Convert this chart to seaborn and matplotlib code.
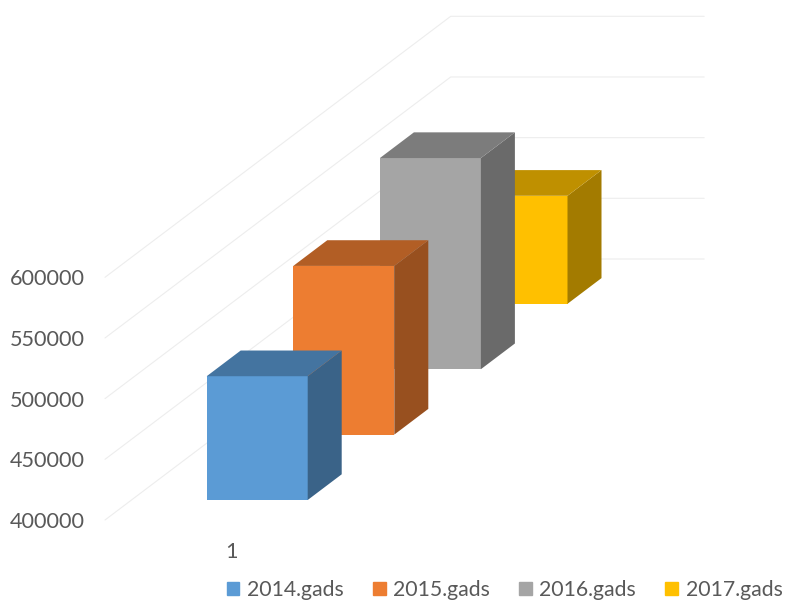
import matplotlib

matplotlib.use("Agg")
import matplotlib.pyplot as plt
import numpy as np
import seaborn as sns
from matplotlib.lines import Line2D
from matplotlib.patches import Patch, Polygon
from matplotlib.transforms import IdentityTransform

categories = ["1"]
series_names = ["2014.gads", "2015.gads", "2016.gads", "2017.gads"]
series_values = [502000, 539000, 574000, 489000]
series_colors = ["#5B9BD5", "#ED7D31", "#A5A5A5", "#FFC000"]
value_ticks = [400000, 450000, 500000, 550000, 600000]

W, H = 785, 601
TEXT = "#595959"
FONT_SIZE = 15.6


def px_rect(left, top, right, bottom):
    """Axes rectangle from image pixels (y counted from the top)."""
    return [left / W, 1 - bottom / H, (right - left) / W, (bottom - top) / H]


def shade(color, factor):
    return tuple(np.array(matplotlib.colors.to_rgb(color)) * factor)


sns.set_theme(style="white")
plt.rcParams["font.family"] = ["Lato", "DejaVu Sans"]

fig = plt.figure(figsize=(W / 100, H / 100), dpi=100)

# value axis with the walls behind the bars
ax = fig.add_axes(px_rect(105, 277.3, 300, 520), zorder=0)
ax.set_ylim(value_ticks[0], value_ticks[-1])
ax.set_xlim(0, 1)
ax.patch.set_alpha(0)
sns.despine(ax=ax, left=True, bottom=True)
ax.set_xticks([])
ax.set_yticks(value_ticks)
ax.tick_params(axis="y", length=0, pad=14.5, labelsize=FONT_SIZE, labelcolor=TEXT)

wall_dx, wall_dy, wall_w = 345.7, 261, 253.5
for v in value_ticks:
    x0, y0 = ax.transData.transform((0, v))
    xs = [x0, x0 + wall_dx, x0 + wall_dx + wall_w]
    ys = [y0, y0 + wall_dy, y0 + wall_dy]
    ax.add_line(Line2D(xs, ys, color="#EDEDED", lw=0.8, transform=IdentityTransform(), clip_on=False))

# one axes per series, shifted along the depth direction, back one drawn first
bar_w = 101
step_x, step_y = 86.6, 65.4
depth_x, depth_y = 34, 25.7
for i, (name, value, color) in enumerate(zip(series_names, series_values, series_colors)):
    left = 206.7 + i * step_x
    bottom = 500 - i * step_y
    a = fig.add_axes(px_rect(left, bottom - 242.7, left + bar_w, bottom), zorder=10 - i)
    sns.barplot(x=categories, y=[value], color=color, saturation=1, width=1, linewidth=0, ax=a)
    a.set_xlim(-0.5, 0.5)
    a.set_ylim(value_ticks[0], value_ticks[-1])
    a.axis("off")

    x1, y1 = a.transData.transform((-0.5, value_ticks[0]))
    x2, y2 = a.transData.transform((0.5, value))
    side = [(x2, y1), (x2 + depth_x, y1 + depth_y), (x2 + depth_x, y2 + depth_y), (x2, y2)]
    top = [(x1, y2), (x2, y2), (x2 + depth_x, y2 + depth_y), (x1 + depth_x, y2 + depth_y)]
    a.add_patch(Polygon(side, color=shade(color, 0.64), lw=0, transform=IdentityTransform(), clip_on=False))
    a.add_patch(Polygon(top, color=shade(color, 0.75), lw=0, transform=IdentityTransform(), clip_on=False))

fig.text(231.5 / W, 1 - 551.5 / H, categories[0], fontsize=FONT_SIZE, color=TEXT, ha="center", va="center")

handles = [Patch(color=c) for c in series_colors]
fig.legend(
    handles,
    series_names,
    loc="center left",
    bbox_to_anchor=(226.5 / W, 1 - 590 / H),
    ncol=4,
    frameon=False,
    fontsize=15.3,
    labelcolor=TEXT,
    borderpad=0,
    borderaxespad=0,
    handlelength=0.6,
    handleheight=0.6,
    handletextpad=0.35,
    columnspacing=1.38,
)

fig.savefig("out.png", dpi=100)
